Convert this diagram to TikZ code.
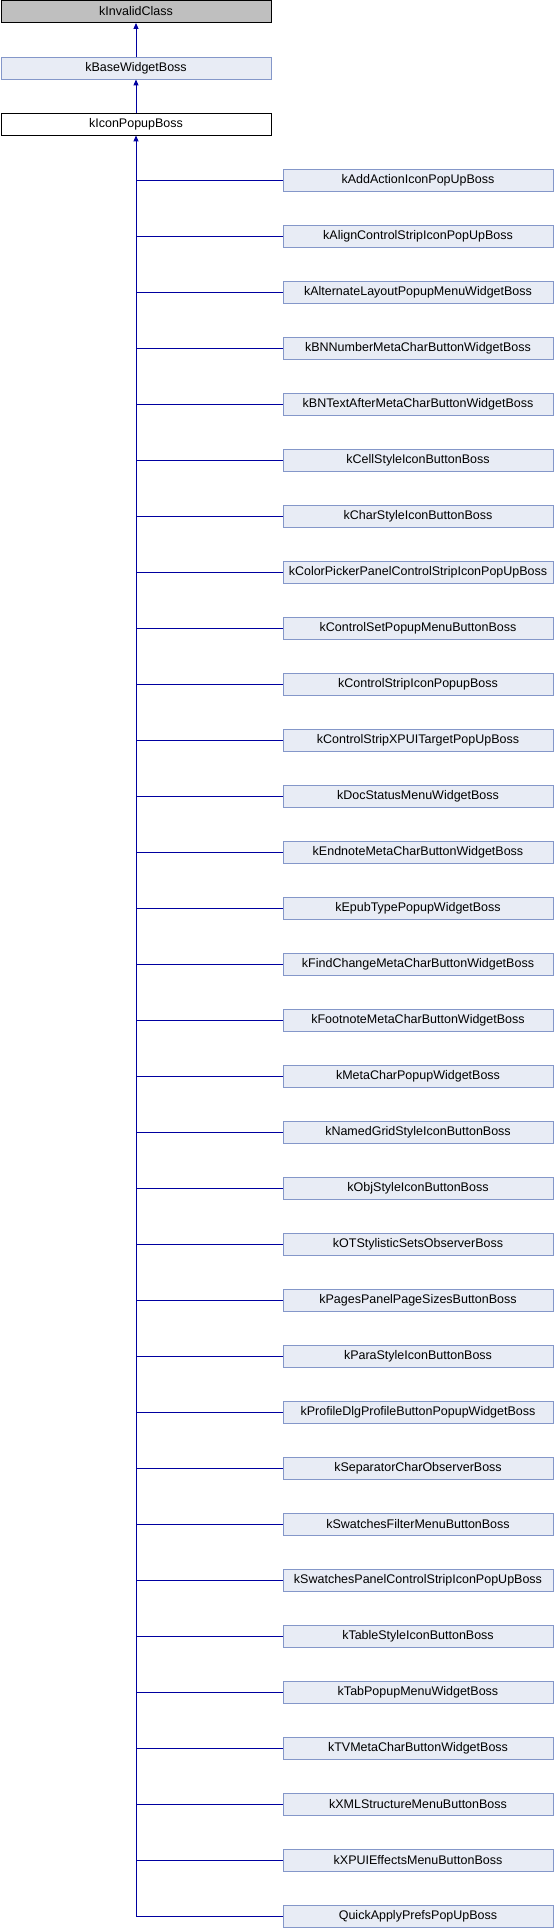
\documentclass[tikz,border=0pt]{standalone}
\usepackage{fontspec}
\setmainfont{Liberation Sans}
\usetikzlibrary{arrows.meta,positioning}

\definecolor{edgeblue}{RGB}{0,0,160}
\definecolor{bossfill}{RGB}{232,236,245}
\definecolor{bossdraw}{RGB}{132,151,201}
\definecolor{rootfill}{RGB}{191,191,191}

\begin{document}
\begin{tikzpicture}[
  x=1pt, y=-1pt,
  >={Triangle[length=6pt,width=5pt]},
  box/.style={draw, rectangle, minimum width=270pt, minimum height=22pt,
    inner sep=0pt, font=\fontsize{12.5}{14}\selectfont, line width=0.9pt},
  boss/.style={box, fill=bossfill, draw=bossdraw},
  link/.style={edgeblue, line width=1pt}
]
\useasboundingbox (0,0) rectangle (554,1928);

% Ancestors
\node[box, fill=rootfill, draw=black] (invalid) at (136,11.5) {kInvalidClass};
\node[boss] (base) at (136,68) {kBaseWidgetBoss};
\node[box, fill=white, draw=black] (popup) at (136,124) {kIconPopupBoss};

\draw[link,->] (base) -- (invalid);
\draw[link,->] (popup) -- (base);

% Derived classes
\foreach \name [count=\i] in {kAddActionIconPopUpBoss,kAlignControlStripIconPopUpBoss,
  kAlternateLayoutPopupMenuWidgetBoss,kBNNumberMetaCharButtonWidgetBoss,
  kBNTextAfterMetaCharButtonWidgetBoss,kCellStyleIconButtonBoss,kCharStyleIconButtonBoss,
  kColorPickerPanelControlStripIconPopUpBoss,kControlSetPopupMenuButtonBoss,
  kControlStripIconPopupBoss,kControlStripXPUITargetPopUpBoss,kDocStatusMenuWidgetBoss,
  kEndnoteMetaCharButtonWidgetBoss,kEpubTypePopupWidgetBoss,
  kFindChangeMetaCharButtonWidgetBoss,kFootnoteMetaCharButtonWidgetBoss,
  kMetaCharPopupWidgetBoss,kNamedGridStyleIconButtonBoss,kObjStyleIconButtonBoss,
  kOTStylisticSetsObserverBoss,kPagesPanelPageSizesButtonBoss,kParaStyleIconButtonBoss,
  kProfileDlgProfileButtonPopupWidgetBoss,kSeparatorCharObserverBoss,
  kSwatchesFilterMenuButtonBoss,kSwatchesPanelControlStripIconPopUpBoss,
  kTableStyleIconButtonBoss,kTabPopupMenuWidgetBoss,kTVMetaCharButtonWidgetBoss,
  kXMLStructureMenuButtonBoss,kXPUIEffectsMenuButtonBoss,QuickApplyPrefsPopUpBoss}
{
  \node[boss] (c\i) at (418,180.5+56*\i-56) {\name};
  \draw[link] (c\i.west) -- (c\i.west -| popup.south);
}

% Trunk
\draw[link,->] (c32.west -| popup.south) -- (popup.south);

\end{tikzpicture}
\end{document}
